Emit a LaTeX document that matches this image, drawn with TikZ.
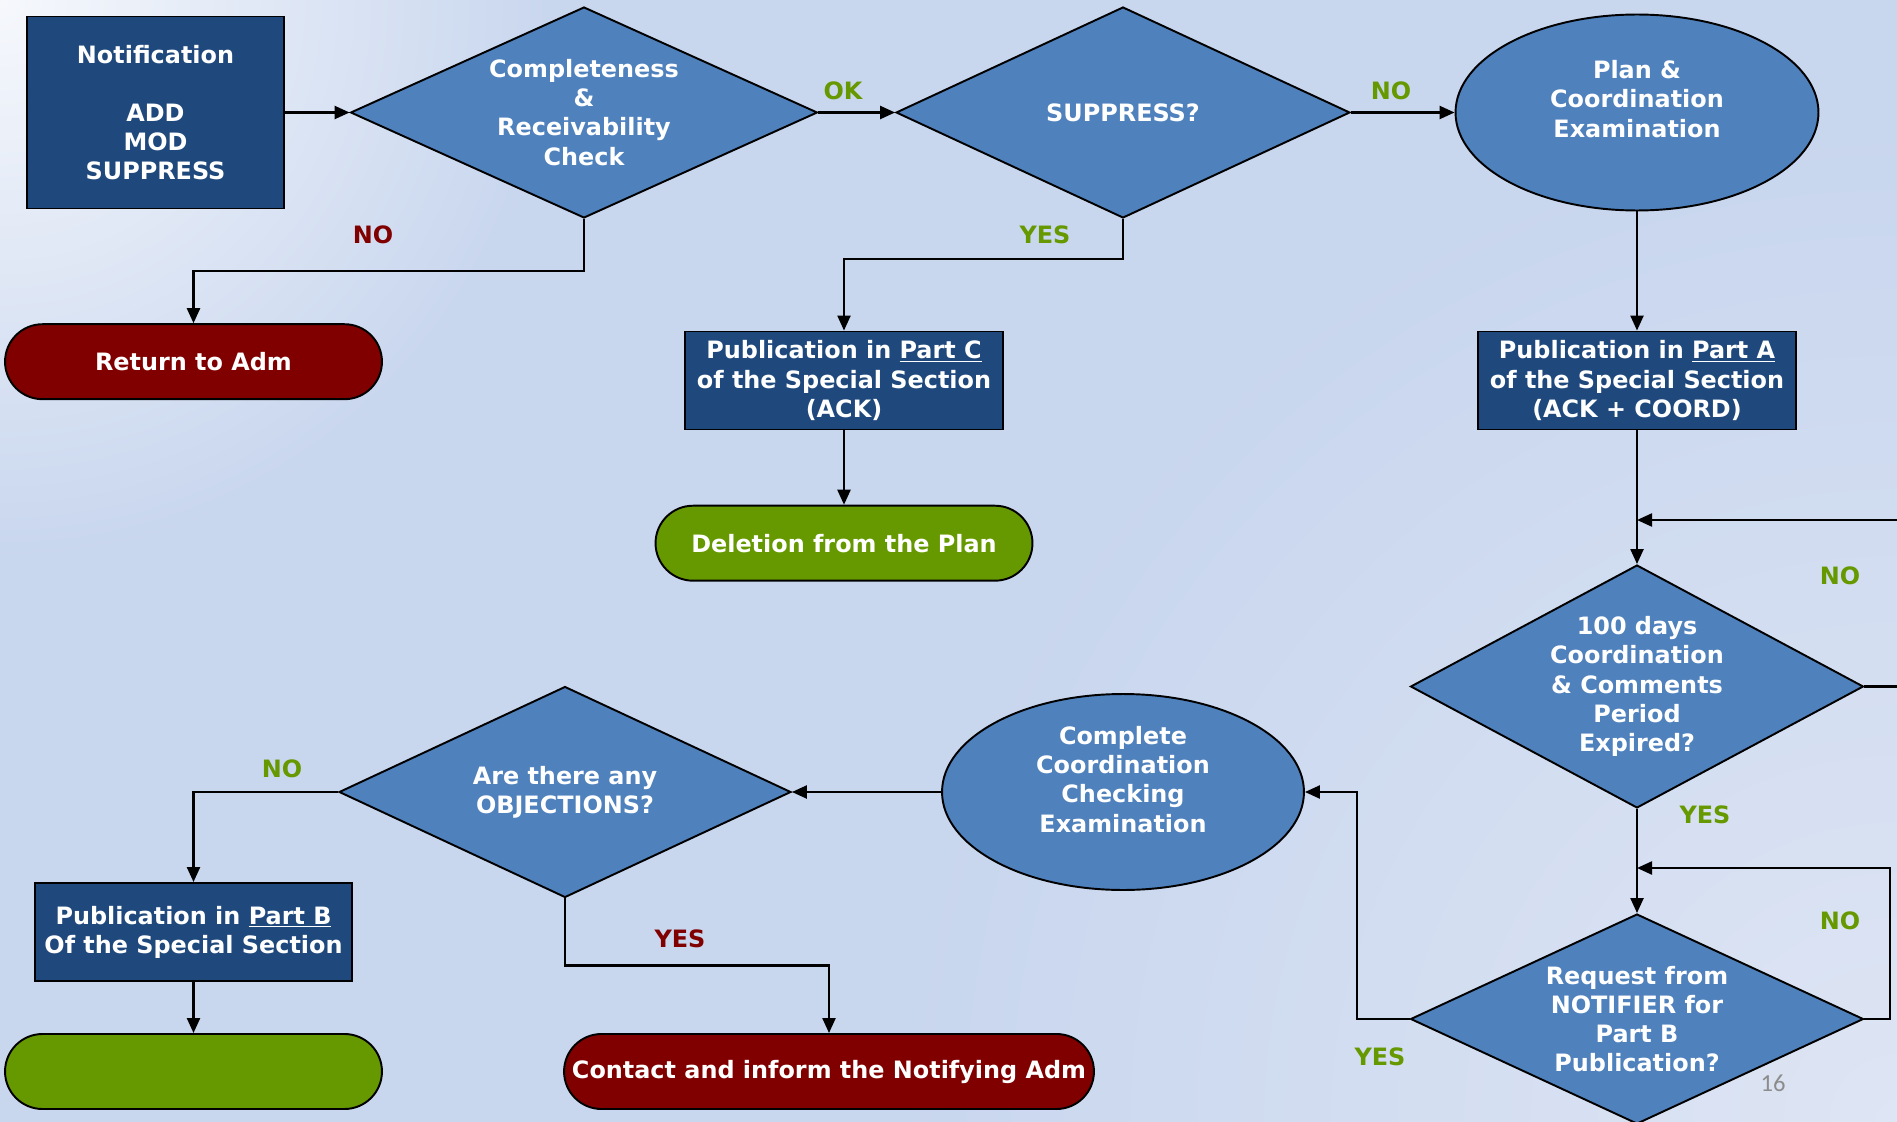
\documentclass[tikz,border=0pt]{standalone}
\usepackage{fontspec}
\setmainfont{DejaVu Sans}
\newfontfamily\pagefont{Carlito}
\usetikzlibrary{shapes.geometric,arrows.meta}
\definecolor{bgbase}{HTML}{C8D6EE}
\definecolor{bgtl}{HTML}{F6F8FC}
\definecolor{bgbr}{HTML}{DEE5F4}
\definecolor{darkbox}{HTML}{1F497D}
\definecolor{midblue}{HTML}{4F81BD}
\definecolor{termred}{HTML}{800000}
\definecolor{termgreen}{HTML}{669900}
\definecolor{pagegray}{HTML}{8C8C8C}
\newcommand\fsz{\fontsize{13.6pt}{16.6pt}\selectfont}
\tikzset{
  shape base/.style={draw=black, line width=1.1pt, text=white, font=\bfseries\fsz, align=center, inner sep=0pt},
  pbox/.style={shape base, rectangle, fill=darkbox},
  dia/.style={shape base, diamond, fill=midblue},
  ell/.style={shape base, ellipse, fill=midblue},
  term/.style={shape base, rectangle, rounded corners=0.75cm, minimum width=7.54cm, minimum height=1.5cm},
  intext/.style={text=white, font=\bfseries\fsz, align=center, inner sep=0pt},
  lab/.style={font=\bfseries\fsz, inner sep=0pt},
  conn/.style={line width=1.3pt, draw=black},
  arr/.style={conn, -{Triangle[length=0.3cm,width=0.26cm]}},
}
\begin{document}
\begin{tikzpicture}[x=0.02cm,y=-0.02cm]
\useasboundingbox (0,0) rectangle (1897,1122);
\clip (0,0) rectangle (1897,1122);
\fill[bgbase] (0,0) rectangle (1897,1122);
\shade[inner color=bgbr, outer color=bgbase] (1897,1122) circle (1000);
\shade[inner color=bgtl, outer color=bgbase] (0,0) circle (560);

% nodes
\node[pbox, minimum width=5.14cm, minimum height=3.84cm] (notif) at (155.5,112.5)
  {Notification\\ \strut\\ADD\\MOD\\SUPPRESS};
\node[dia, aspect=2.213, minimum width=9.34cm, minimum height=4.22cm] (d1) at (584,112.5)
  {Completeness\\\&\\Receivability\\Check};
\node[dia, aspect=2.15, minimum width=9.08cm, minimum height=4.22cm] (d2) at (1123,112.5)
  {SUPPRESS?};
\node[ell, minimum width=7.26cm, minimum height=3.92cm] (plan) at (1637,112.5) {};
\node[intext] (plantxt) at (1637,99) {Plan \&\\Coordination\\Examination};
\node[term, fill=termred] (ret) at (193.5,361.7) {Return to Adm};
\node[pbox, minimum width=6.36cm, minimum height=1.96cm] (partc) at (844,380.5)
  {Publication in \underline{Part C}\\of the Special Section\\(ACK)};
\node[term, fill=termgreen] (del) at (844,543.2) {Deletion from the Plan};
\node[pbox, minimum width=6.37cm, minimum height=1.96cm] (parta) at (1637,380.5)
  {Publication in \underline{Part A}\\of the Special Section\\(ACK + COORD)};
\node[dia, aspect=1.864, minimum width=9.06cm, minimum height=4.86cm] (d3) at (1637,686.5)
  {100 days\\Coordination\\\& Comments\\Period\\Expired?};
\node[dia, aspect=2.157, minimum width=9.06cm, minimum height=4.2cm] (d4) at (1637,1019)
  {Request from\\NOTIFIER for\\Part B\\Publication?};
\node[ell, minimum width=7.24cm, minimum height=3.92cm] (comp) at (1123,792) {};
\node[intext] (comptxt) at (1123,779.5) {Complete\\Coordination\\Checking\\Examination};
\node[dia, aspect=2.142, minimum width=9.04cm, minimum height=4.22cm] (obj) at (565,792)
  {Are there any\\OBJECTIONS?};
\node[pbox, minimum width=6.34cm, minimum height=1.96cm] (partb) at (193.5,932)
  {Publication in \underline{Part B}\\Of the Special Section};
\node[term, fill=termgreen] (fin) at (193.5,1071.5) {};
\node[term, fill=termred, minimum width=10.6cm] (contact) at (829,1071.5)
  {Contact and inform the Notifying Adm};

% connectors
\draw[arr] (notif.east) -- (d1.west);
\draw[arr] (d1.east) -- (d2.west);
\draw[arr] (d2.east) -- (plan.west);
\draw[arr] (d1.south) -- (d1.south |- 0,271) -| (ret.north);
\draw[arr] (d2.south) -- (d2.south |- 0,259) -| (partc.north);
\draw[arr] (partc.south) -- (del.north);
\draw[arr] (plan.south) -- (parta.north);
\draw[arr] (parta.south) -- (d3.north);
\coordinate (loopA) at (1910,520);
\draw[arr] (d3.east) -| (loopA) -- (d3.north |- loopA);
\draw[arr] (d3.south) -- (d4.north);
\coordinate (loopB) at (1890,868);
\draw[arr] (d4.east) -| (loopB) -- (d4.north |- loopB);
\coordinate (loopC) at (1357,1019);
\draw[arr] (d4.west) -- (loopC) |- (comp.east);
\draw[arr] (comp.west) -- (obj.east);
\draw[arr] (obj.west) -| (partb.north);
\draw[arr] (partb.south) -- (fin.north);
\draw[arr] (obj.south) -- (obj.south |- 0,965.5) -| (contact.north);

% labels
\node[lab, text=termgreen] (lok) at (843,91) {OK};
\node[lab, text=termgreen] (lno1) at (1391,91) {NO};
\node[lab, text=termred] (lno2) at (373,235) {NO};
\node[lab, text=termgreen] (lyes1) at (1045,235) {YES};
\node[lab, text=termgreen] (lno3) at (1840,576) {NO};
\node[lab, text=termgreen] (lyes2) at (1705,815) {YES};
\node[lab, text=termgreen] (lno4) at (1840,921) {NO};
\node[lab, text=termgreen] (lyes3) at (1380,1057) {YES};
\node[lab, text=termgreen] (lno5) at (282,769) {NO};
\node[lab, text=termred] (lyes4) at (680,939) {YES};
\node[font=\pagefont\fontsize{14pt}{16pt}\selectfont, text=pagegray, inner sep=0pt] (pg) at (1773,1083) {16};
\end{tikzpicture}
\end{document}
